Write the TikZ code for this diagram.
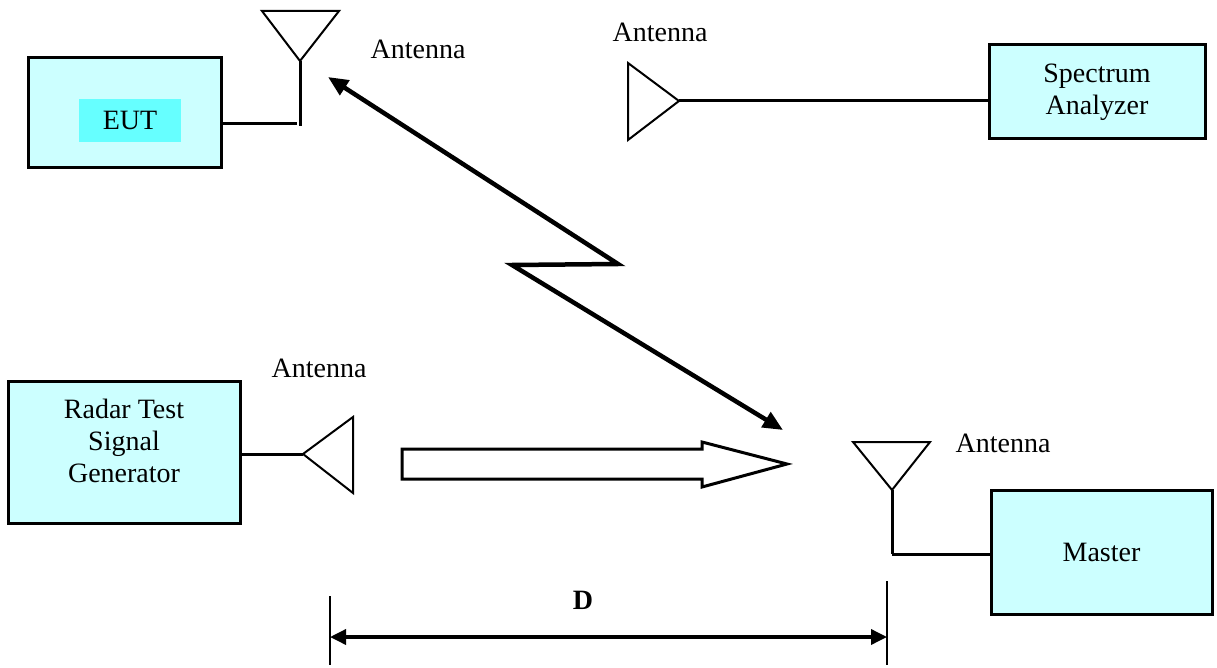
\documentclass[tikz,border=0pt]{standalone}
\usepackage{fontspec}
\setmainfont{Liberation Serif}
\usepackage{xcolor}
\usepackage{tikz}
\usetikzlibrary{arrows.meta}

\definecolor{boxfill}{HTML}{CCFFFF}
\definecolor{tagfill}{HTML}{66FFFF}

\tikzset{
    unitbox/.style={draw, line width=3pt, fill=boxfill, inner sep=0pt, align=center},
    antline/.style={line width=2pt, line join=miter},
    wire/.style={line width=3pt},
    antlabel/.style={inner sep=0pt}
}

\begin{document}
\begin{tikzpicture}[x=1pt, y=-1pt, font=\fontsize{28}{32}\selectfont]
    \useasboundingbox (0,0) rectangle (1217,668);

    \node[unitbox, minimum width=193pt, minimum height=110pt] (eut) at (124.5,113) {};
    \node[fill=tagfill, minimum width=102pt, minimum height=43pt, inner sep=0pt] (euttag) at (130,120.5) {EUT};
    \node[unitbox, minimum width=216pt, minimum height=94pt] (sa) at (1097,92) {Spectrum\\Analyzer};
    \node[unitbox, minimum width=232pt, minimum height=142pt] (rts) at (124,452) {};
    \node[align=center, inner sep=0pt] (rtstext) at (124,441) {Radar Test\\Signal\\Generator};
    \node[unitbox, minimum width=221pt, minimum height=124pt] (mst) at (1101.5,552) {Master};

    % antennas
    \coordinate (eutant) at (300,61);
    \coordinate (saant) at (679,101);
    \coordinate (rtsant) at (303,454);
    \coordinate (mstant) at (892,490);

    \draw[antline] (262,11) -- (339,11) -- (eutant) -- cycle;
    \draw[wire] (eutant) -- (300,126);
    \draw[antline] (628,63) -- (628,140) -- (saant) -- cycle;
    \draw[antline] (353,417) -- (353,493) -- (rtsant) -- cycle;
    \draw[antline] (853,442) -- (930,442) -- (mstant) -- cycle;
    \draw[wire] (mstant) -- (892,554) coordinate (mstfeed);

    \coordinate (eutfeed) at (297,124);
    \draw[wire] (eut.east |- eutfeed) -- (eutfeed);
    \draw[wire] (saant) -- (sa.west |- saant);
    \draw[wire] (rts.east |- rtsant) -- (rtsant);
    \draw[wire] (mstfeed) -- (mst.west |- mstfeed);

    \node[antlabel] (eutlabel) at (418,49) {Antenna};
    \node[antlabel] (salabel) at (660,32) {Antenna};
    \node[antlabel] (rtslabel) at (319,368) {Antenna};
    \node[antlabel] (mstlabel) at (1003,443) {Antenna};

    % radio link
    \coordinate (linka) at (328,77);
    \coordinate (linkb) at (783,430);
    \draw[line width=4.5pt, line join=miter, {Triangle[length=20pt,width=17pt]}-{Triangle[length=20pt,width=17pt]}]
        (linka) -- (618,264) -- (512,265) -- (linkb);

    % radar signal
    \draw[line width=3pt, line join=miter, fill=white]
        (402,449) -- (702,449) -- (702,442) -- (787,464) -- (702,487) -- (702,479) -- (402,479) -- cycle;

    % distance
    \coordinate (dleft) at (330,637);
    \coordinate (dright) at (887,637);
    \draw[line width=2.5pt] (330,596) -- (330,665);
    \draw[line width=2.5pt] (887,581) -- (887,665);
    \draw[line width=3.5pt, {Triangle[length=16pt,width=15pt]}-{Triangle[length=16pt,width=15pt]}]
        (dleft) -- (dright);
    \node[font=\fontsize{28}{32}\selectfont\bfseries, inner sep=0pt] (dlabel) at (583,600) {D};
\end{tikzpicture}
\end{document}
